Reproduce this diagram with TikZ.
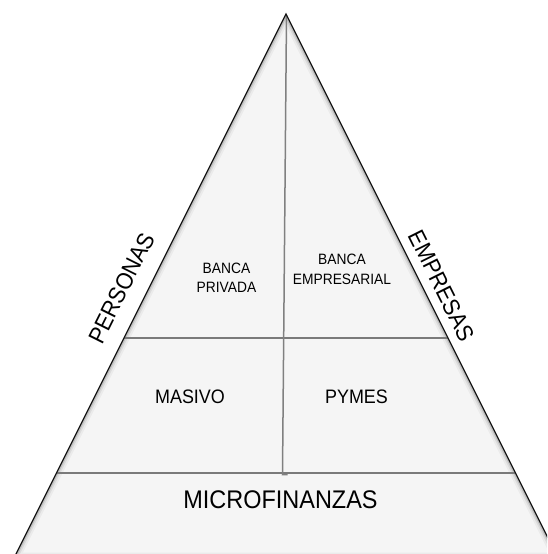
\documentclass[tikz,border=0pt]{standalone}
\usepackage{fontspec}
\setmainfont{Liberation Sans}[FakeStretch=0.92]
\begin{document}
\begin{tikzpicture}[x=1pt,y=-1pt,
  rim/.style={line width=1.3pt, draw=black!90, line join=miter},
  divider/.style={line width=1.8pt, draw=black!52},
  axisline/.style={line width=1.5pt, draw=black!50},
  txt/.style={inner sep=0pt, text=black},
  bigtxt/.style={txt, font=\fontsize{25.5}{30}\selectfont},
  midtxt/.style={txt, font=\fontsize{19.5}{23}\selectfont},
  smalltxt/.style={txt, font=\fontsize{15}{18}\selectfont},
  sidetxt/.style={txt, font=\fontsize{23.5}{28}\selectfont},
]
\useasboundingbox (0,0) rectangle (547,554);
\clip (0,0) rectangle (547,554);

% pyramid corners
\coordinate (apex) at (286,14);
\coordinate (bl) at (14,558);
\coordinate (br) at (558,558);

% body with a soft inner shadow along the rim
\fill[black!4] (apex) -- (bl) -- (br) -- cycle;
\begin{scope}
  \clip (apex) -- (bl) -- (br) -- cycle;
  \foreach \w/\o in {11/0.04,7/0.07,4/0.12}
    \draw[line width=\w pt, black, opacity=\o, line join=miter] (apex) -- (bl) -- (br) -- cycle;
\end{scope}

% tier dividers
\coordinate (t1l) at (124,338);
\coordinate (t1r) at (448,338);
\coordinate (t2l) at (56.5,473);
\coordinate (t2r) at (515.5,473);
\draw[divider] (t1l) -- (t1r);
\draw[divider] (t2l) -- (t2r);

% central split between personas and empresas
\coordinate (vtop) at (286.5,15);
\coordinate (vbot) at (282.5,474.5);
\coordinate (vend) at (287.5,474.5);
\draw[axisline] (vtop) -- (vbot) -- (vend);

% outer rim
\draw[rim] (bl) -- (apex) -- (br);

% labels
\node[smalltxt, anchor=base] (bp1) at (226.5,273) {BANCA};
\node[smalltxt, anchor=base] (bp2) at (226.5,292.5) {PRIVADA};
\node[smalltxt, anchor=base] (be1) at (342,264) {BANCA};
\node[smalltxt, anchor=base] (be2) at (342,284) {EMPRESARIAL};
\node[midtxt, anchor=base] (masivo) at (190,403) {MASIVO};
\node[midtxt, anchor=base] (pymes) at (356.5,403) {PYMES};
\node[bigtxt, anchor=base] (micro) at (280.5,508) {MICROFINANZAS};
\node[sidetxt, rotate=63.43] (personas) at (121.7,288.3) {PERSONAS};
\node[sidetxt, rotate=-63.43] (empresas) at (441.7,286) {EMPRESAS};
\end{tikzpicture}
\end{document}
